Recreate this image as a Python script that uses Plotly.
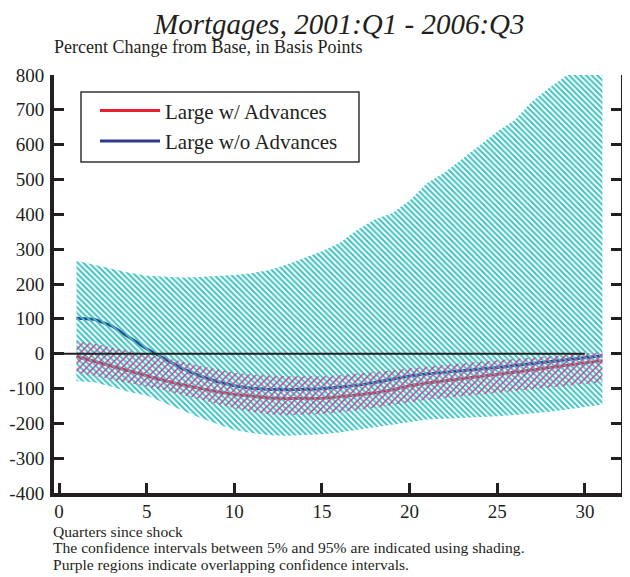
import plotly.graph_objects as go

# ---------------- data ----------------
quarters = list(range(1, 32))

large_with_adv = [-8, -22, -36, -50, -63, -77, -89, -100, -109, -117, -123, -127, -129, -129,
                  -128, -124, -119, -113, -104, -92, -84, -78, -73, -66, -60, -54, -47, -40,
                  -33, -27, -20]
large_without_adv = [102, 99, 80, 47, 14, -14, -42, -63, -80, -92, -99, -103, -104, -103,
                     -101, -97, -91, -83, -74, -64, -58, -54, -50, -46, -40, -34, -28, -22,
                     -16, -11, -6]

# 5%-95% confidence band of "Large w/o Advances" (cyan)
wo_upper = [267, 255, 243, 232, 224, 221, 219, 220, 222, 226, 231, 240, 256, 274, 294, 318,
            355, 385, 403, 440, 490, 520, 558, 598, 638, 671, 725, 765, 800, 815, 820]
wo_lower = [-79, -82, -95, -110, -120, -140, -162, -183, -200, -219, -228, -234, -236, -234,
            -231, -226, -219, -211, -203, -196, -189, -187, -185, -183, -180, -176, -172,
            -167, -160, -153, -146]

# 5%-95% confidence band of "Large w/ Advances" (overlapping -> purple)
w_upper = [35, 29, 18, 8, 0, -10, -22, -35, -45, -55, -60, -63, -65, -65, -65, -62, -58,
           -53, -48, -42, -38, -33, -28, -23, -19, -15, -12, -8, -4, 0, 4]
w_lower = [-55, -63, -75, -86, -95, -105, -118, -130, -145, -157, -167, -174, -177, -176,
           -173, -168, -163, -156, -147, -139, -132, -127, -122, -118, -113, -109, -104,
           -99, -94, -88, -82]

zero_x = [0, 30]
zero_y = [0, 0]

x_ticks = [0, 5, 10, 15, 20, 25, 30]
y_ticks = [-400, -300, -200, -100, 0, 100, 200, 300, 400, 500, 600, 700, 800]
y_tick_labels = ["-400", "-300", "-200", "-100", "0", "100", "200", "300", "400", "500",
                 "600", "700", "800"]

# ---------------- styles ----------------
FONT = "Liberation Serif"
INK = "#231f20"
RED = "#e8212e"
BLUE = "#2b3a8f"
CYAN = "#3cc3c3"
MAGENTA = "#c8389c"

fig = go.Figure()

# lines first (hatching drawn over them like in the reference)
fig.add_trace(go.Scatter(x=quarters, y=large_with_adv, mode="lines",
                         line=dict(color=RED, width=3), name="Large w/ Advances"))
fig.add_trace(go.Scatter(x=quarters, y=large_without_adv, mode="lines",
                         line=dict(color=BLUE, width=3), name="Large w/o Advances"))

# cyan band
fig.add_trace(go.Scatter(x=quarters, y=wo_lower, mode="lines", line=dict(width=0),
                         showlegend=False, hoverinfo="skip"))
fig.add_trace(go.Scatter(x=quarters, y=wo_upper, mode="lines", line=dict(width=0),
                         fill="tonexty", fillcolor="rgba(0,0,0,0)",
                         fillpattern=dict(shape="\\", fgcolor=CYAN, bgcolor="rgba(0,0,0,0)",
                                          size=4, solidity=0.5, fillmode="replace"),
                         showlegend=False, hoverinfo="skip"))
# magenta band
fig.add_trace(go.Scatter(x=quarters, y=w_lower, mode="lines", line=dict(width=0),
                         showlegend=False, hoverinfo="skip"))
fig.add_trace(go.Scatter(x=quarters, y=w_upper, mode="lines", line=dict(width=0),
                         fill="tonexty", fillcolor="rgba(0,0,0,0)",
                         fillpattern=dict(shape="/", fgcolor=MAGENTA, bgcolor="rgba(0,0,0,0)",
                                          size=5, solidity=0.28, fillmode="replace"),
                         showlegend=False, hoverinfo="skip"))

# zero reference line
fig.add_trace(go.Scatter(x=zero_x, y=zero_y, mode="lines",
                         line=dict(color=INK, width=2), showlegend=False, hoverinfo="skip"))

axis_common = dict(showgrid=False, zeroline=False, showline=True, linecolor=INK, linewidth=4,
                   ticks="inside", ticklen=10, tickwidth=3, tickcolor=INK, automargin=False)

fig.update_xaxes(range=[-0.285, 32.06], tickvals=x_ticks, ticklabelstandoff=-2,
                 tickfont=dict(family=FONT, size=19, color=INK), **axis_common)
fig.update_yaxes(range=[-400, 800], tickvals=y_ticks, ticktext=y_tick_labels,
                 mirror="ticks", ticklabelstandoff=2,
                 tickfont=dict(family=FONT, size=19, color=INK), **axis_common)

# page body has an 8px default margin: figure is sized/offset to compensate
fig.update_layout(
    width=622, height=569,
    margin=dict(l=46, r=9, t=67, b=84, autoexpand=False),
    paper_bgcolor="white", plot_bgcolor="white",
    showlegend=True,
    legend=dict(x=0.0723, y=0.963, xanchor="left", yanchor="top", traceorder="normal",
                bgcolor="rgba(0,0,0,0)", borderwidth=0, itemwidth=60,
                font=dict(family=FONT, size=21, color=INK), tracegroupgap=0),
    shapes=[
        dict(type="rect", xref="paper", yref="paper", x0=0.0476, x1=0.5379,
             y0=0.7919, y1=0.9593, line=dict(color="#333333", width=1.5),
             fillcolor="white", layer="above"),
    ],
    annotations=[
        dict(text="<i>Mortgages, 2001:Q1 - 2006:Q3</i>", xref="paper", yref="paper",
             x=0.5026, y=1.1225, xanchor="center", yanchor="middle", showarrow=False,
             borderpad=0, font=dict(family=FONT, size=29, color=INK)),
        dict(text="Percent Change from Base, in Basis Points", xref="paper", yref="paper",
             x=-0.004, y=1.067, xanchor="left", yanchor="middle", showarrow=False,
             font=dict(family=FONT, size=18, color=INK)),
        dict(text="Quarters since shock", xref="paper", yref="paper",
             x=-0.005, y=-0.091, xanchor="left", yanchor="middle", showarrow=False,
             font=dict(family=FONT, size=15.6, color=INK)),
        dict(text="The confidence intervals between 5% and 95% are indicated using shading.",
             xref="paper", yref="paper",
             x=-0.005, y=-0.1305, xanchor="left", yanchor="middle", showarrow=False,
             font=dict(family=FONT, size=15.6, color=INK)),
        dict(text="Purple regions indicate overlapping confidence intervals.",
             xref="paper", yref="paper",
             x=-0.005, y=-0.1705, xanchor="left", yanchor="middle", showarrow=False,
             font=dict(family=FONT, size=15.6, color=INK)),
    ],
)

fig.write_html("out.html")
